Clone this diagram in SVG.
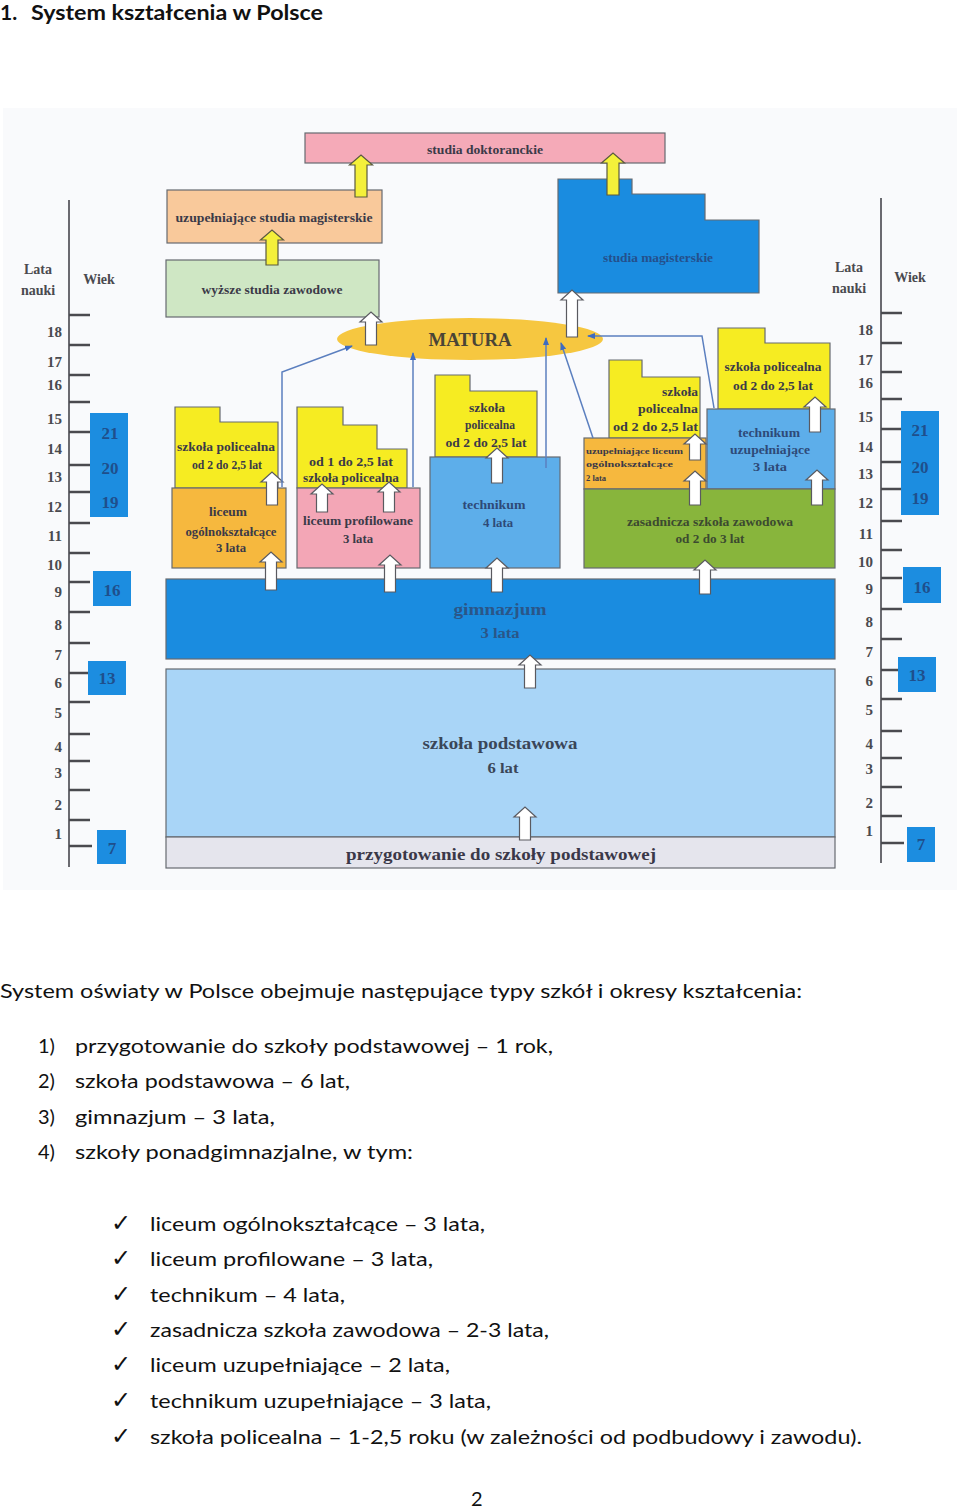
<svg xmlns="http://www.w3.org/2000/svg" width="960" height="1509" viewBox="0 0 960 1509">
<style>
.b{stroke:#666a70;stroke-width:1.2}
.t{font-family:"Liberation Serif",serif;font-weight:bold;fill:#3b3a48;text-anchor:middle}
.s11{font-size:12px}
.s12{font-size:12.5px}
.num{font-family:"Liberation Serif",serif;font-weight:bold;font-size:15px;fill:#4a4a4f;text-anchor:end}
.bn{font-family:"Liberation Serif",serif;font-weight:bold;font-size:17px;fill:#1f4f8c;text-anchor:middle}
.lab{font-family:"Liberation Serif",serif;font-weight:bold;font-size:14px;fill:#4a4a4f;text-anchor:middle}
.tick{stroke:#4a4a4f;stroke-width:2.5}
.axis{stroke:#6a6a70;stroke-width:2}
.wa{fill:#ffffff;stroke:#5a5a60;stroke-width:1.2}
.ya{fill:#f4f03a;stroke:#5a5a40;stroke-width:1.2}
.cn{fill:none;stroke:#5b7fbf;stroke-width:1.5}
.bx{fill:#1c8de0}
.p{font-family:Lato,"Liberation Sans",sans-serif;font-size:20px;fill:#111}
.ck{font-family:"DejaVu Sans",sans-serif;font-size:24px;fill:#111}
</style>
<defs>
<marker id="ah" viewBox="0 0 8 6" refX="7" refY="3" markerWidth="8" markerHeight="6" markerUnits="userSpaceOnUse" orient="auto">
<path d="M0,0 L8,3 L0,6 Z" fill="#3f6cc0"/>
</marker>
</defs>
<rect width="960" height="1509" fill="#ffffff"/>
<text x="0" y="20" font-family="Lato,'Liberation Sans',sans-serif" font-weight="bold" font-size="21" fill="#111">1.</text>
<text x="31" y="20" font-family="Lato,'Liberation Sans',sans-serif" font-weight="bold" font-size="21" fill="#111" textLength="292" lengthAdjust="spacingAndGlyphs">System kształcenia w Polsce</text>
<rect x="3" y="108" width="954" height="782" fill="#f9fafc"/>

<g id="scale-left">
<line class="axis" x1="69" y1="200" x2="69" y2="867"/>
<g class="tick">
<line x1="69" y1="315" x2="90" y2="315"/><line x1="69" y1="345" x2="90" y2="345"/><line x1="69" y1="375" x2="90" y2="375"/><line x1="69" y1="402" x2="90" y2="402"/><line x1="69" y1="432" x2="90" y2="432"/><line x1="69" y1="465" x2="90" y2="465"/><line x1="69" y1="492" x2="90" y2="492"/><line x1="69" y1="523" x2="90" y2="523"/><line x1="69" y1="553" x2="90" y2="553"/><line x1="69" y1="582" x2="90" y2="582"/><line x1="69" y1="612" x2="90" y2="612"/><line x1="69" y1="643" x2="90" y2="643"/><line x1="69" y1="673" x2="90" y2="673"/><line x1="69" y1="702" x2="90" y2="702"/><line x1="69" y1="734" x2="90" y2="734"/><line x1="69" y1="761" x2="90" y2="761"/><line x1="69" y1="790" x2="90" y2="790"/><line x1="69" y1="820" x2="90" y2="820"/><line x1="69" y1="846" x2="92" y2="846"/>
</g>
<text class="lab" x="38" y="274">Lata</text>
<text class="lab" x="38" y="295">nauki</text>
<text class="lab" x="99" y="284">Wiek</text>
<text class="num" x="62" y="337">18</text><text class="num" x="62" y="367">17</text><text class="num" x="62" y="390">16</text><text class="num" x="62" y="424">15</text><text class="num" x="62" y="454">14</text><text class="num" x="62" y="482">13</text><text class="num" x="62" y="512">12</text><text class="num" x="62" y="541">11</text><text class="num" x="62" y="570">10</text><text class="num" x="62" y="597">9</text><text class="num" x="62" y="630">8</text><text class="num" x="62" y="660">7</text><text class="num" x="62" y="688">6</text><text class="num" x="62" y="718">5</text><text class="num" x="62" y="752">4</text><text class="num" x="62" y="778">3</text><text class="num" x="62" y="810">2</text><text class="num" x="62" y="839">1</text>
<rect class="bx" x="90" y="413" width="38" height="104"/>
<text class="bn" x="110" y="439">21</text><text class="bn" x="110" y="474">20</text><text class="bn" x="110" y="508">19</text>
<rect class="bx" x="93" y="571" width="38" height="35"/><text class="bn" x="112" y="596">16</text>
<rect class="bx" x="88" y="661" width="38" height="34"/><text class="bn" x="107" y="684">13</text>
<rect class="bx" x="97" y="830" width="29" height="34"/><text class="bn" x="112" y="854">7</text>
</g>

<g id="scale-right">
<line class="axis" x1="881" y1="198" x2="881" y2="863"/>
<g class="tick">
<line x1="881" y1="313" x2="902" y2="313"/><line x1="881" y1="343" x2="902" y2="343"/><line x1="881" y1="372" x2="902" y2="372"/><line x1="881" y1="399" x2="902" y2="399"/><line x1="881" y1="429" x2="902" y2="429"/><line x1="881" y1="462" x2="902" y2="462"/><line x1="881" y1="489" x2="902" y2="489"/><line x1="881" y1="521" x2="902" y2="521"/><line x1="881" y1="550" x2="902" y2="550"/><line x1="881" y1="578" x2="902" y2="578"/><line x1="881" y1="609" x2="902" y2="609"/><line x1="881" y1="639" x2="902" y2="639"/><line x1="881" y1="670" x2="902" y2="670"/><line x1="881" y1="699" x2="902" y2="699"/><line x1="881" y1="731" x2="902" y2="731"/><line x1="881" y1="758" x2="902" y2="758"/><line x1="881" y1="787" x2="902" y2="787"/><line x1="881" y1="816" x2="902" y2="816"/><line x1="881" y1="843" x2="904" y2="843"/>
</g>
<text class="lab" x="849" y="272">Lata</text>
<text class="lab" x="849" y="293">nauki</text>
<text class="lab" x="910" y="282">Wiek</text>
<text class="num" x="873" y="335">18</text><text class="num" x="873" y="365">17</text><text class="num" x="873" y="388">16</text><text class="num" x="873" y="422">15</text><text class="num" x="873" y="452">14</text><text class="num" x="873" y="479">13</text><text class="num" x="873" y="508">12</text><text class="num" x="873" y="539">11</text><text class="num" x="873" y="567">10</text><text class="num" x="873" y="594">9</text><text class="num" x="873" y="627">8</text><text class="num" x="873" y="657">7</text><text class="num" x="873" y="686">6</text><text class="num" x="873" y="715">5</text><text class="num" x="873" y="749">4</text><text class="num" x="873" y="774">3</text><text class="num" x="873" y="808">2</text><text class="num" x="873" y="836">1</text>
<rect class="bx" x="901" y="411" width="38" height="104"/>
<text class="bn" x="920" y="436">21</text><text class="bn" x="920" y="473">20</text><text class="bn" x="920" y="504">19</text>
<rect class="bx" x="903" y="567" width="38" height="36"/><text class="bn" x="922" y="593">16</text>
<rect class="bx" x="898" y="657" width="38" height="35"/><text class="bn" x="917" y="681">13</text>
<rect class="bx" x="907" y="827" width="28" height="35"/><text class="bn" x="921" y="850">7</text>
</g>

<g id="studia-doktoranckie">
<rect class="b" x="305" y="133" width="360" height="30" fill="#f5aab8"/>
<text class="t s12" x="485" y="154" textLength="116" lengthAdjust="spacingAndGlyphs">studia doktoranckie</text>
</g>
<g id="uzupelniajace-studia-magisterskie">
<rect class="b" x="167" y="190" width="215" height="53" fill="#f9c99b"/>
<text class="t s12" x="274" y="222" textLength="197" lengthAdjust="spacingAndGlyphs">uzupełniające studia magisterskie</text>
</g>
<g id="wyzsze-studia-zawodowe">
<rect class="b" x="166" y="260" width="213" height="57" fill="#cfe7c4"/>
<text class="t s12" x="272" y="294" textLength="141" lengthAdjust="spacingAndGlyphs">wyższe studia zawodowe</text>
</g>
<g id="studia-magisterskie">
<path class="b" d="M558,179 L632,179 L632,194 L705,194 L705,220 L759,220 L759,293 L558,293 Z" fill="#1a8ce0"/>
<text class="t s11" x="658" y="262" style="fill:#24508c" textLength="110" lengthAdjust="spacingAndGlyphs">studia magisterskie</text>
</g>
<g id="matura">
<ellipse cx="470" cy="339" rx="133" ry="21" fill="#f6c740"/>
<text class="t" x="470" y="346" font-size="18" style="fill:#4a4436" textLength="83" lengthAdjust="spacingAndGlyphs">MATURA</text>
</g>

<g id="szkola-policealna-1">
<path class="b" d="M175,407 L220,407 L220,422 L278,422 L278,488 L175,488 Z" fill="#f6ec22"/>
<text class="t s11" x="226" y="451" textLength="98" lengthAdjust="spacingAndGlyphs">szkoła policealna</text>
<text class="t s11" x="227" y="469" textLength="70" lengthAdjust="spacingAndGlyphs">od 2 do 2,5 lat</text>
</g>
<g id="liceum-ogolnoksztalcace">
<rect class="b" x="172" y="488" width="114" height="80" fill="#f6b83e"/>
<text class="t s11" x="228" y="516" textLength="38" lengthAdjust="spacingAndGlyphs">liceum</text>
<text class="t s11" x="231" y="536" textLength="91" lengthAdjust="spacingAndGlyphs">ogólnokształcące</text>
<text class="t s11" x="231" y="552" textLength="30" lengthAdjust="spacingAndGlyphs">3 lata</text>
</g>
<g id="szkola-policealna-2">
<path class="b" d="M297,407 L343,407 L343,425 L377,425 L377,449 L407,449 L407,488 L297,488 Z" fill="#f6ec22"/>
<text class="t s11" x="351" y="466" textLength="84" lengthAdjust="spacingAndGlyphs">od 1 do 2,5 lat</text>
<text class="t s11" x="351" y="482" textLength="96" lengthAdjust="spacingAndGlyphs">szkoła policealna</text>
</g>
<g id="liceum-profilowane">
<rect class="b" x="297" y="488" width="123" height="80" fill="#f3a6b6"/>
<text class="t s11" x="358" y="525" textLength="110" lengthAdjust="spacingAndGlyphs">liceum profilowane</text>
<text class="t s11" x="358" y="543" textLength="30" lengthAdjust="spacingAndGlyphs">3 lata</text>
</g>
<g id="szkola-policealna-3">
<path class="b" d="M435,375 L470,375 L470,391 L537,391 L537,457 L435,457 Z" fill="#f6ec22"/>
<text class="t s11" x="487" y="412" textLength="36" lengthAdjust="spacingAndGlyphs">szkoła</text>
<text class="t s11" x="490" y="429" textLength="50" lengthAdjust="spacingAndGlyphs">policealna</text>
<text class="t s11" x="486" y="447" textLength="81" lengthAdjust="spacingAndGlyphs">od 2 do 2,5 lat</text>
</g>
<g id="technikum">
<rect class="b" x="430" y="457" width="130" height="111" fill="#5daeea"/>
<text class="t s11" x="494" y="509" style="fill:#2e4a78" textLength="63" lengthAdjust="spacingAndGlyphs">technikum</text>
<text class="t s11" x="498" y="527" style="fill:#2e4a78" textLength="30" lengthAdjust="spacingAndGlyphs">4 lata</text>
</g>
<g id="szkola-policealna-4">
<path class="b" d="M609,360 L642,360 L642,377 L700,377 L700,438 L609,438 Z" fill="#f6ec22"/>
<text class="t s11" x="698" y="396" style="text-anchor:end" textLength="36" lengthAdjust="spacingAndGlyphs">szkoła</text>
<text class="t s11" x="698" y="413" style="text-anchor:end" textLength="60" lengthAdjust="spacingAndGlyphs">policealna</text>
<text class="t s11" x="698" y="431" style="text-anchor:end" textLength="85" lengthAdjust="spacingAndGlyphs">od 2 do 2,5 lat</text>
</g>
<g id="liceum-uzupelniajace">
<rect class="b" x="584" y="438" width="122" height="51" fill="#f6b83e"/>
<text class="t" x="586" y="454" font-size="8.5" style="text-anchor:start" textLength="97" lengthAdjust="spacingAndGlyphs">uzupełniające liceum</text>
<text class="t" x="586" y="467" font-size="8.5" style="text-anchor:start" textLength="87" lengthAdjust="spacingAndGlyphs">ogólnokształcące</text>
<text class="t" x="586" y="481" font-size="8.5" style="text-anchor:start">2 lata</text>
</g>
<g id="szkola-policealna-5">
<path class="b" d="M718,328 L765,328 L765,343 L830,343 L830,409 L718,409 Z" fill="#f6ec22"/>
<text class="t s11" x="773" y="371" textLength="97" lengthAdjust="spacingAndGlyphs">szkoła policealna</text>
<text class="t s11" x="773" y="390" textLength="80" lengthAdjust="spacingAndGlyphs">od 2 do 2,5 lat</text>
</g>
<g id="technikum-uzupelniajace">
<rect class="b" x="707" y="409" width="128" height="80" fill="#5daeea"/>
<text class="t s11" x="769" y="437" style="fill:#2e4a78" textLength="62" lengthAdjust="spacingAndGlyphs">technikum</text>
<text class="t s11" x="770" y="454" style="fill:#2e4a78" textLength="80" lengthAdjust="spacingAndGlyphs">uzupełniające</text>
<text class="t s11" x="770" y="471" style="fill:#2e4a78" textLength="34" lengthAdjust="spacingAndGlyphs">3 lata</text>
</g>
<g id="zasadnicza-szkola-zawodowa">
<rect class="b" x="584" y="489" width="251" height="79" fill="#88b53c"/>
<text class="t s11" x="710" y="526" style="fill:#3c4a30" textLength="166" lengthAdjust="spacingAndGlyphs">zasadnicza szkoła zawodowa</text>
<text class="t s11" x="710" y="543" style="fill:#3c4a30" textLength="69" lengthAdjust="spacingAndGlyphs">od 2 do 3 lat</text>
</g>
<g id="gimnazjum">
<rect class="b" x="166" y="579" width="669" height="80" fill="#1a8ce0"/>
<text class="t" x="500" y="615" font-size="17" style="fill:#2a5688" textLength="93" lengthAdjust="spacingAndGlyphs">gimnazjum</text>
<text class="t" x="500" y="638" font-size="14" style="fill:#2a5688" textLength="39" lengthAdjust="spacingAndGlyphs">3 lata</text>
</g>
<g id="szkola-podstawowa">
<rect class="b" x="166" y="669" width="669" height="168" fill="#a9d5f7"/>
<text class="t" x="500" y="749" font-size="17" style="fill:#3a4658" textLength="155" lengthAdjust="spacingAndGlyphs">szkoła podstawowa</text>
<text class="t" x="503" y="773" font-size="15" style="fill:#3a4658" textLength="31" lengthAdjust="spacingAndGlyphs">6 lat</text>
</g>
<g id="przygotowanie">
<rect class="b" x="166" y="837" width="669" height="31" fill="#e5e5ed"/>
<text class="t" x="501" y="860" font-size="17" style="fill:#3a3848" textLength="310" lengthAdjust="spacingAndGlyphs">przygotowanie do szkoły podstawowej</text>
</g>

<g id="connectors">
<g class="ya">
<polygon points="355,197 355,165 349.5,165 361,155 372.5,165 367,165 367,197"/>
<polygon points="266,265 266,240 260.5,240 272,230 283.5,240 278,240 278,265"/>
<polygon points="607,195 607,163 601.5,163 613,153 624.5,163 619,163 619,195"/>
</g>
<g class="wa">
<polygon points="519.5,840 519.5,817 514,817 525,807 536,817 530.5,817 530.5,840"/>
<polygon points="524.5,688 524.5,665 519,665 530,655 541,665 535.5,665 535.5,688"/>
<polygon points="265.5,590 265.5,562 260,562 271,552 282,562 276.5,562 276.5,590"/>
<polygon points="384.5,592 384.5,565 379,565 390,555 401,565 395.5,565 395.5,592"/>
<polygon points="491.5,592 491.5,568 486,568 497,558 508,568 502.5,568 502.5,592"/>
<polygon points="699.5,594 699.5,570 694,570 705,560 716,570 710.5,570 710.5,594"/>
<polygon points="266.5,505 266.5,482 261,482 272,472 283,482 277.5,482 277.5,505"/>
<polygon points="316.5,512 316.5,494 311,494 322,484 333,494 327.5,494 327.5,512"/>
<polygon points="383.5,512 383.5,492 378,492 389,482 400,492 394.5,492 394.5,512"/>
<polygon points="491.5,483 491.5,458 486,458 497,448 508,458 502.5,458 502.5,483"/>
<polygon points="689.5,505 689.5,481 684,481 695,471 706,481 700.5,481 700.5,505"/>
<polygon points="689.5,460 689.5,444 684,444 695,434 706,444 700.5,444 700.5,460"/>
<polygon points="811.5,505 811.5,480 806,480 817,470 828,480 822.5,480 822.5,505"/>
<polygon points="809.5,432 809.5,407 804,407 815,397 826,407 820.5,407 820.5,432"/>
<polygon points="365.5,345 365.5,322 360,322 371,312 382,322 376.5,322 376.5,345"/>
<polygon points="566.5,337 566.5,300 561,300 572,290 583,300 577.5,300 577.5,337"/>
</g>
<g class="cn">
<polyline points="282,487 282,372 352,346" marker-end="url(#ah)"/>
<polyline points="413,487 413,353" marker-end="url(#ah)"/>
<polyline points="546,468 546,338" marker-end="url(#ah)"/>
<polyline points="593,438 561,343" marker-end="url(#ah)"/>
<polyline points="714,408 702,336 588,336" marker-end="url(#ah)"/>
</g>
</g>

<text class="p" x="0" y="998" textLength="802" lengthAdjust="spacingAndGlyphs">System oświaty w Polsce obejmuje następujące typy szkół i okresy kształcenia:</text>
<text class="p" x="38" y="1053">1)</text><text class="p" x="75" y="1053" textLength="478" lengthAdjust="spacingAndGlyphs">przygotowanie do szkoły podstawowej – 1 rok,</text>
<text class="p" x="38" y="1088">2)</text><text class="p" x="75" y="1088" textLength="275" lengthAdjust="spacingAndGlyphs">szkoła podstawowa – 6 lat,</text>
<text class="p" x="38" y="1124">3)</text><text class="p" x="75" y="1124" textLength="200" lengthAdjust="spacingAndGlyphs">gimnazjum – 3 lata,</text>
<text class="p" x="38" y="1159">4)</text><text class="p" x="75" y="1159" textLength="338" lengthAdjust="spacingAndGlyphs">szkoły ponadgimnazjalne, w tym:</text>

<text class="ck" x="111" y="1231">✓</text><text class="p" x="150" y="1231" textLength="335" lengthAdjust="spacingAndGlyphs">liceum ogólnokształcące – 3 lata,</text>
<text class="ck" x="111" y="1266">✓</text><text class="p" x="150" y="1266" textLength="283" lengthAdjust="spacingAndGlyphs">liceum profilowane – 3 lata,</text>
<text class="ck" x="111" y="1302">✓</text><text class="p" x="150" y="1302" textLength="195" lengthAdjust="spacingAndGlyphs">technikum – 4 lata,</text>
<text class="ck" x="111" y="1337">✓</text><text class="p" x="150" y="1337" textLength="399" lengthAdjust="spacingAndGlyphs">zasadnicza szkoła zawodowa – 2-3 lata,</text>
<text class="ck" x="111" y="1372">✓</text><text class="p" x="150" y="1372" textLength="300" lengthAdjust="spacingAndGlyphs">liceum uzupełniające – 2 lata,</text>
<text class="ck" x="111" y="1408">✓</text><text class="p" x="150" y="1408" textLength="341" lengthAdjust="spacingAndGlyphs">technikum uzupełniające – 3 lata,</text>
<text class="ck" x="111" y="1444">✓</text><text class="p" x="150" y="1444" textLength="712" lengthAdjust="spacingAndGlyphs">szkoła policealna – 1-2,5 roku (w zależności od podbudowy i zawodu).</text>
<text class="p" x="471" y="1506">2</text>
</svg>
